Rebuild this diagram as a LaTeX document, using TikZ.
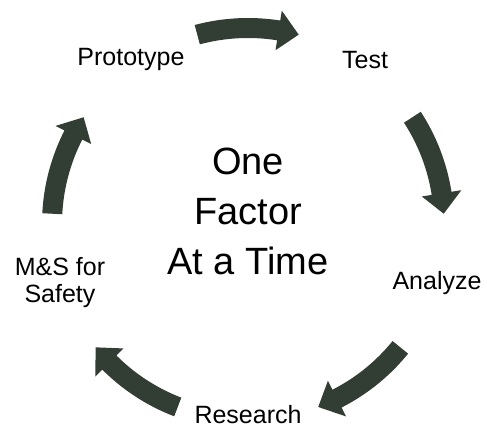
\documentclass[tikz,border=0pt]{standalone}
\usepackage{fontspec}
\setmainfont{Liberation Sans}
\usepackage{tikz}
\definecolor{arrowgreen}{RGB}{50,61,51}
\tikzset{
  phase/.style={font=\fontsize{25}{27}\selectfont,align=center,inner sep=0pt},
  cyclearrow/.style={fill=arrowgreen,draw=none}
}

\begin{document}
\begin{tikzpicture}[x=1pt,y=1pt]
\useasboundingbox(-248,-202)rectangle(239,228);
\foreach \a in {90,18,-54,-126,162}
  \fill[cyclearrow,shift={(0,4)}](\a+15:186pt)arc[start angle=\a+15,end angle=\a-9,radius=186pt]
    --(\a-9:176pt)--(\a-15:196pt)--(\a-9:216pt)--(\a-9:206pt)
    arc[start angle=\a-9,end angle=\a+15,radius=206pt]--cycle;
\node[phase](proto)at(-117,168){Prototype};
\node[phase](test)at(117,168){Test};
\node[phase](analyze)at(189,-55){Analyze};
\node[phase](research)at(0,-187){Research};
\node[phase](sim)at(-188,-55){M\&S for\\Safety};
\node[align=center,font=\fontsize{38}{50}\selectfont](ofat)at(0,17){One\\Factor\\At a Time};
\end{tikzpicture}
\end{document}
